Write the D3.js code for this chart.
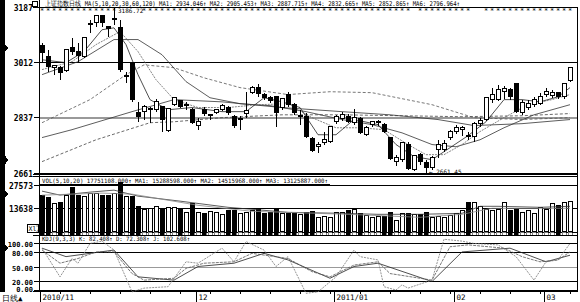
<!DOCTYPE html>
<html>
<head>
<meta charset="utf-8">
<script src="https://cdn.jsdelivr.net/npm/d3@7"></script>
<style>
  body { margin: 0; background: #fff; }
  svg { display: block; }
  text { font-family: "DejaVu Sans Mono", monospace; fill: #000; }
</style>
</head>
<body>
<div id="chart"></div>
<script>
// ---- data (index = trading day, 0 = first candle) ----
const open  = [3064,3029,2994,2994,2984,3057,3045,3029,3130,3136,3158,3124,3146,3120,2966,3010,2852,2855,2861,2861,2871,2795,2877,2890,2874,2861,2811,2861,2842,2852,2861,2868,2839,2830,2849,2915,2931,2909,2899,2902,2868,2909,2877,2839,2839,2769,2744,2757,2760,2823,2833,2839,2820,2833,2782,2814,2820,2814,2773,2697,2703,2751,2671,2719,2694,2678,2735,2735,2773,2792,2798,2779,2776,2817,2830,2893,2893,2918,2924,2943,2852,2868,2877,2880,2909,2905,2915,2902,2953];
const close = [3041,2997,3000,2978,3051,3045,3032,3089,3133,3158,3136,3117,3149,2988,2969,2893,2839,2871,2864,2886,2830,2864,2899,2871,2877,2820,2823,2849,2845,2861,2874,2852,2811,2833,2858,2931,2912,2899,2890,2852,2896,2877,2852,2842,2776,2732,2751,2766,2807,2839,2845,2823,2836,2788,2804,2823,2823,2792,2706,2709,2757,2675,2716,2697,2678,2709,2751,2754,2792,2804,2804,2776,2817,2826,2899,2909,2924,2928,2902,2855,2883,2880,2893,2902,2918,2915,2902,2943,2994];
const high  = [3073,3051,3003,3000,3054,3089,3073,3089,3146,3162,3162,3127,3187,3146,2981,3013,2886,2877,2871,2896,2874,2868,2902,2893,2886,2868,2836,2871,2849,2864,2880,2874,2845,2842,2918,2937,2943,2915,2905,2905,2899,2918,2883,2861,2852,2776,2760,2792,2807,2845,2855,2849,2864,2839,2811,2826,2830,2820,2776,2719,2760,2760,2719,2725,2703,2716,2766,2766,2798,2814,2811,2792,2823,2836,2902,2931,2940,2937,2931,2947,2893,2893,2902,2915,2931,2924,2918,2947,2997];
const low   = [3013,2981,2972,2956,2981,3035,3013,3026,3105,3124,3124,3092,3130,2981,2947,2886,2823,2830,2820,2855,2792,2792,2874,2868,2861,2817,2798,2842,2830,2849,2858,2845,2804,2798,2836,2912,2902,2893,2883,2807,2861,2871,2845,2814,2773,2728,2725,2751,2757,2817,2826,2820,2814,2785,2779,2807,2811,2788,2703,2684,2697,2671,2668,2687,2662,2671,2709,2728,2766,2785,2779,2766,2760,2807,2826,2883,2890,2896,2893,2852,2845,2861,2871,2877,2902,2899,2896,2896,2950];

// volume, in units of 10,000 (X1万)
const volume = [21500,20300,16700,17300,21500,25800,21500,20900,22700,22700,21500,21500,22700,28800,20900,20900,14800,13000,13600,14800,13600,14200,14200,13000,11200,16700,11200,10600,11800,11200,10000,12400,12400,10600,11200,12400,13000,10600,11200,13600,10600,10600,10600,10000,11200,11800,8200,8800,8200,11200,11200,12400,13000,10600,9400,8200,8800,8800,11200,6400,10600,10600,10000,10000,11200,8200,8800,8200,9400,10600,12400,17300,17300,14800,13000,12400,13000,17300,12400,13000,11200,12400,10600,14200,13000,16700,15400,17300,17900];

// price moving averages, read as [day, price]
const ma5   = [[0,3019],[4,3010],[7,3045],[10,3114],[12,3120],[14,3067],[16,2972],[18,2893],[21,2861],[25,2868],[30,2855],[34,2855],[37,2899],[40,2886],[43,2868],[46,2782],[49,2782],[52,2830],[56,2814],[59,2751],[62,2713],[65,2703],[68,2741],[71,2779],[74,2823],[77,2893],[80,2893],[83,2886],[86,2902],[88,2931]];
const ma10  = [[0,2988],[5,3013],[9,3067],[13,3108],[16,3045],[19,2956],[22,2893],[26,2868],[31,2868],[36,2877],[41,2880],[45,2836],[49,2804],[53,2804],[57,2798],[61,2751],[64,2719],[67,2719],[70,2751],[73,2792],[77,2836],[81,2877],[85,2893],[88,2909]];
const ma20  = [[0,2972],[6,3013],[12,3083],[16,3083],[20,3035],[24,2950],[28,2899],[33,2880],[38,2874],[44,2855],[50,2830],[55,2814],[60,2788],[65,2751],[69,2744],[73,2766],[77,2804],[82,2845],[88,2877]];
const ma30  = [[0,2820],[8,2893],[14,2972],[17,3003],[22,2994],[27,2962],[33,2931],[41,2909],[48,2918],[55,2915],[65,2877],[72,2836],[80,2830],[88,2836]];
const ma60  = [[0,2773],[5,2798],[15,2855],[22,2893],[30,2886],[40,2868],[50,2855],[58,2845],[66,2830],[72,2811],[80,2817],[88,2830]];
const ma120 = [[0,2697],[9,2766],[18,2820],[22,2823],[30,2836],[40,2845],[50,2845],[60,2842],[70,2839],[80,2842],[88,2849]];

// volume averages, [day, volume]
const volMa1 = [[0,23900],[3,21500],[8,23300],[12,24500],[16,20900],[23,17900],[31,14200],[41,11200],[50,10600],[56,10000],[63,10000],[70,10600],[73,14800],[76,14800],[83,14200],[88,14800]];
const volMa2 = [[0,21500],[10,22700],[15,22100],[26,15400],[35,11800],[51,10000],[63,8200],[70,10000],[75,13600],[88,13600]];

// KDJ, [day, value]
const kLine = [[0,85],[3,57],[6,67],[9,81],[12,81],[15,35],[17,21],[22,25],[24,46],[27,57],[32,60],[35,78],[41,67],[45,39],[48,28],[52,53],[56,60],[58,35],[65,21],[68,92],[71,96],[77,89],[80,71],[83,60],[86,64],[88,81]];
const dLine = [[0,89],[4,71],[12,85],[16,28],[22,21],[26,50],[32,57],[37,78],[41,64],[48,25],[52,50],[56,57],[65,18],[70,81],[78,89],[84,60],[88,74]];
const jLine = [[0,89],[3,28],[5,67],[6,57],[8,99],[10,104],[12,85],[15,-4],[17,4],[21,7],[24,60],[26,57],[30,89],[32,60],[34,103],[37,85],[39,50],[41,71],[44,-7],[46,-4],[49,28],[52,85],[53,71],[56,64],[57,7],[59,0],[60,11],[61,4],[65,21],[67,108],[70,104],[72,99],[76,96],[79,71],[82,21],[84,60],[86,64],[88,99]];

const priceTicks = ["3187","3012","2837","2661"];
const priceTickValues = [3187, 3012, 2837, 2661];
const volTicks = [27573, 13638];
const kdjTicks = [100, 80, 50, 20, 0];
const monthLabels = [["2010/11", 0], ["12", 26], ["2011/01", 49], ["02", 69], ["03", 84]];
const starGaps = [13, 14, 15, 16, 62, 72, 73];

const topHeader = "上证指数日线 MA(5,10,20,30,60,120) MA1: 2934.046↑ MA2: 2905.453↑ MA3: 2887.715↑ MA4: 2832.665↑ MA5: 2852.865↑ MA6: 2796.964↑";
const volHeader = "VOL(5,10,20) 17751108.000↑ MA1: 15288598.000↑ MA2: 14515968.000↑ MA3: 13125887.000↑";
const kdjHeader = "KDJ(9,3,3) K: 82.408↑ D: 72.308↑ J: 102.608↑";

// ---- layout ----
const W = 580, H = 302;
const left = 40, right = 577;

const svg = d3.select("#chart").append("svg")
  .attr("width", W).attr("height", H)
  .attr("shape-rendering", "crispEdges");

const x = d3.scaleLinear().domain([0, 88]).range([42, 570]);
const y = d3.scaleLinear().domain([2661, 3012]).range([173, 62]);
const yv = d3.scaleLinear().domain([0, 27573]).range([231, 185]);
const yk = d3.scaleLinear().domain([0, 100]).range([290, 243]);

// left black strip with notches
svg.append("path")
  .attr("d", "M0,0 H5 V44 L8,48 L5,52 V155 L8,160 L5,165 V190 L8,194 L5,198 V244 L8,248 L5,252 V292 H0 Z")
  .attr("fill", "#000");

// frame lines
const frame = svg.append("g").attr("stroke", "#000").attr("fill", "none");
frame.append("line").attr("x1", 39.5).attr("x2", 39.5).attr("y1", 0).attr("y2", 292);
frame.append("line").attr("x1", right + 0.5).attr("x2", right + 0.5).attr("y1", 7).attr("y2", 292);
[7.5, 174.5, 176.5, 232.5, 235.5, 291.5].forEach(v =>
  frame.append("line").attr("x1", 33).attr("x2", right).attr("y1", v).attr("y2", v));

// price grid and labels
priceTickValues.forEach((v, i) => {
  const yy = Math.round(y(v)) + 0.5;
  if (i > 0) {
    svg.append("line").attr("x1", left).attr("x2", right).attr("y1", yy).attr("y2", yy)
      .attr("stroke", i === 2 ? "#999" : "#000").attr("stroke-width", i === 2 ? 2 : 1);
  }
  svg.append("line").attr("x1", 34).attr("x2", 40).attr("y1", yy).attr("y2", yy).attr("stroke", "#000");
  svg.append("text").attr("x", 33).attr("y", yy + 3).attr("text-anchor", "end")
    .attr("font-size", 8).attr("font-weight", "bold").text(priceTicks[i]);
});

// volume grid
volTicks.forEach(v => {
  const yy = Math.round(yv(v)) + 0.5;
  svg.append("line").attr("x1", left).attr("x2", right).attr("y1", yy).attr("y2", yy).attr("stroke", "#000");
  svg.append("line").attr("x1", 34).attr("x2", 40).attr("y1", yy).attr("y2", yy).attr("stroke", "#000");
  svg.append("text").attr("x", 33).attr("y", yy + 3).attr("text-anchor", "end")
    .attr("font-size", 8).attr("font-weight", "bold").text(v);
});

// kdj grid
kdjTicks.forEach(v => {
  const yy = Math.round(yk(v)) + 0.5;
  svg.append("line").attr("x1", left).attr("x2", right).attr("y1", yy).attr("y2", yy)
    .attr("stroke", v === 50 ? "#999" : "#000").attr("stroke-width", v === 50 ? 1.5 : 1);
  svg.append("line").attr("x1", 34).attr("x2", 40).attr("y1", yy).attr("y2", yy).attr("stroke", "#000");
  svg.append("text").attr("x", 33).attr("y", yy + (v === 0 ? 1.5 : 3)).attr("text-anchor", "end")
    .attr("font-size", 7).attr("font-weight", "bold").text(v.toFixed(2));
});

// moving average lines
const priceLine = d3.line().x(d => x(d[0])).y(d => y(d[1]));
const plotG = svg.append("g").attr("shape-rendering", "auto");
[
  [ma120, "#444", "3,2"], [ma60, "#333", null], [ma30, "#555", "3,2"],
  [ma20, "#333", null], [ma10, "#666", "2,1"], [ma5, "#222", null]
].forEach(([d, c, dash]) => {
  plotG.append("path").attr("d", priceLine(d)).attr("fill", "none")
    .attr("stroke", c).attr("stroke-width", 0.8).attr("stroke-dasharray", dash);
});

// candles
const days = d3.range(open.length);
const candle = svg.append("g");
candle.selectAll("line.wick").data(days).join("line")
  .attr("x1", i => Math.round(x(i)) + 0.5).attr("x2", i => Math.round(x(i)) + 0.5)
  .attr("y1", i => y(high[i])).attr("y2", i => y(low[i]))
  .attr("stroke", "#000");
candle.selectAll("rect").data(days).join("rect")
  .attr("x", i => Math.round(x(i)) - 1.5)
  .attr("width", 4)
  .attr("y", i => y(Math.max(open[i], close[i])))
  .attr("height", i => Math.max(1, Math.abs(y(open[i]) - y(close[i]))))
  .attr("fill", i => close[i] >= open[i] ? "#fff" : "#000")
  .attr("stroke", "#000");

// high / low markers
svg.append("text").attr("x", x(12) + 4).attr("y", 13).attr("font-size", 6).text("3186.72");
svg.append("text").attr("x", x(64) + 3).attr("y", 174).attr("font-size", 6).text("← 2661.45");

// star row under the header
svg.append("g").selectAll("text").data(days.filter(i => !starGaps.includes(i))).join("text")
  .attr("x", i => x(i)).attr("y", 13).attr("text-anchor", "middle")
  .attr("font-size", 7).text("*");

// volume bars
svg.append("g").selectAll("rect").data(days).join("rect")
  .attr("x", i => Math.round(x(i)) - 1.5)
  .attr("width", 4)
  .attr("y", i => yv(volume[i]))
  .attr("height", i => yv(0) - yv(volume[i]))
  .attr("fill", i => close[i] >= open[i] ? "#fff" : "#000")
  .attr("stroke", "#000");

const volLine = d3.line().x(d => x(d[0])).y(d => yv(d[1]));
svg.append("path").attr("d", volLine(volMa1)).attr("fill", "none").attr("stroke", "#333").attr("stroke-width", 0.8).attr("shape-rendering", "auto");
svg.append("path").attr("d", volLine(volMa2)).attr("fill", "none").attr("stroke", "#888").attr("stroke-width", 0.8).attr("shape-rendering", "auto");

// up / down squares row
svg.append("g").selectAll("rect").data(days).join("rect")
  .attr("x", i => Math.round(x(i)) - 2)
  .attr("y", 232).attr("width", 4).attr("height", 3)
  .attr("fill", i => close[i] >= open[i] ? "#fff" : "#000")
  .attr("stroke", "#000").attr("stroke-width", 0.5);

// KDJ lines
const kLineGen = d3.line().x(d => x(d[0])).y(d => yk(d[1]));
const kdjG = svg.append("g").attr("shape-rendering", "auto");
kdjG.append("path").attr("d", kLineGen(dLine)).attr("fill", "none").attr("stroke", "#222").attr("stroke-width", 0.8);
kdjG.append("path").attr("d", kLineGen(kLine)).attr("fill", "none").attr("stroke", "#555").attr("stroke-width", 0.8).attr("stroke-dasharray", "3,1");
kdjG.append("path").attr("d", kLineGen(jLine)).attr("fill", "none").attr("stroke", "#777").attr("stroke-width", 0.8).attr("stroke-dasharray", "2,1");

// headers
svg.append("rect").attr("x", 32).attr("y", 1).attr("width", 5).attr("height", 5).attr("fill", "#fff").attr("stroke", "#000");
svg.append("text").attr("x", 45).attr("y", 6).attr("font-size", 6.5)
  .attr("textLength", 415).attr("lengthAdjust", "spacingAndGlyphs").text(topHeader);
svg.append("text").attr("x", 42).attr("y", 182.5).attr("font-size", 6)
  .attr("textLength", 286).attr("lengthAdjust", "spacingAndGlyphs").text(volHeader);
svg.append("line").attr("x1", 40).attr("x2", 330).attr("y1", 184.5).attr("y2", 184.5).attr("stroke", "#000");
svg.append("text").attr("x", 42).attr("y", 241).attr("font-size", 6)
  .attr("textLength", 148).attr("lengthAdjust", "spacingAndGlyphs").text(kdjHeader);

// X1万 box
svg.append("rect").attr("x", 27.5).attr("y", 224.5).attr("width", 11).attr("height", 8).attr("fill", "#fff").attr("stroke", "#000");
svg.append("text").attr("x", 28.5).attr("y", 231).attr("font-size", 6.5).text("Xl万");

// bottom date axis
svg.append("text").attr("x", 2).attr("y", 301).attr("font-size", 7.5).attr("font-family", "Noto Sans CJK SC").text("日线▲");
monthLabels.forEach(([t, i]) => {
  const xx = Math.round(x(i)) - 1.5;
  svg.append("line").attr("x1", xx).attr("x2", xx).attr("y1", 292).attr("y2", 302).attr("stroke", "#000");
  svg.append("text").attr("x", xx + 2).attr("y", 300).attr("font-size", 7.5).text(t);
});
d3.range(3, 89, 5).forEach(i => {
  const xx = Math.round(x(i)) + 0.5;
  svg.append("line").attr("x1", xx).attr("x2", xx).attr("y1", 292).attr("y2", 294).attr("stroke", "#000");
});
</script>
</body>
</html>
